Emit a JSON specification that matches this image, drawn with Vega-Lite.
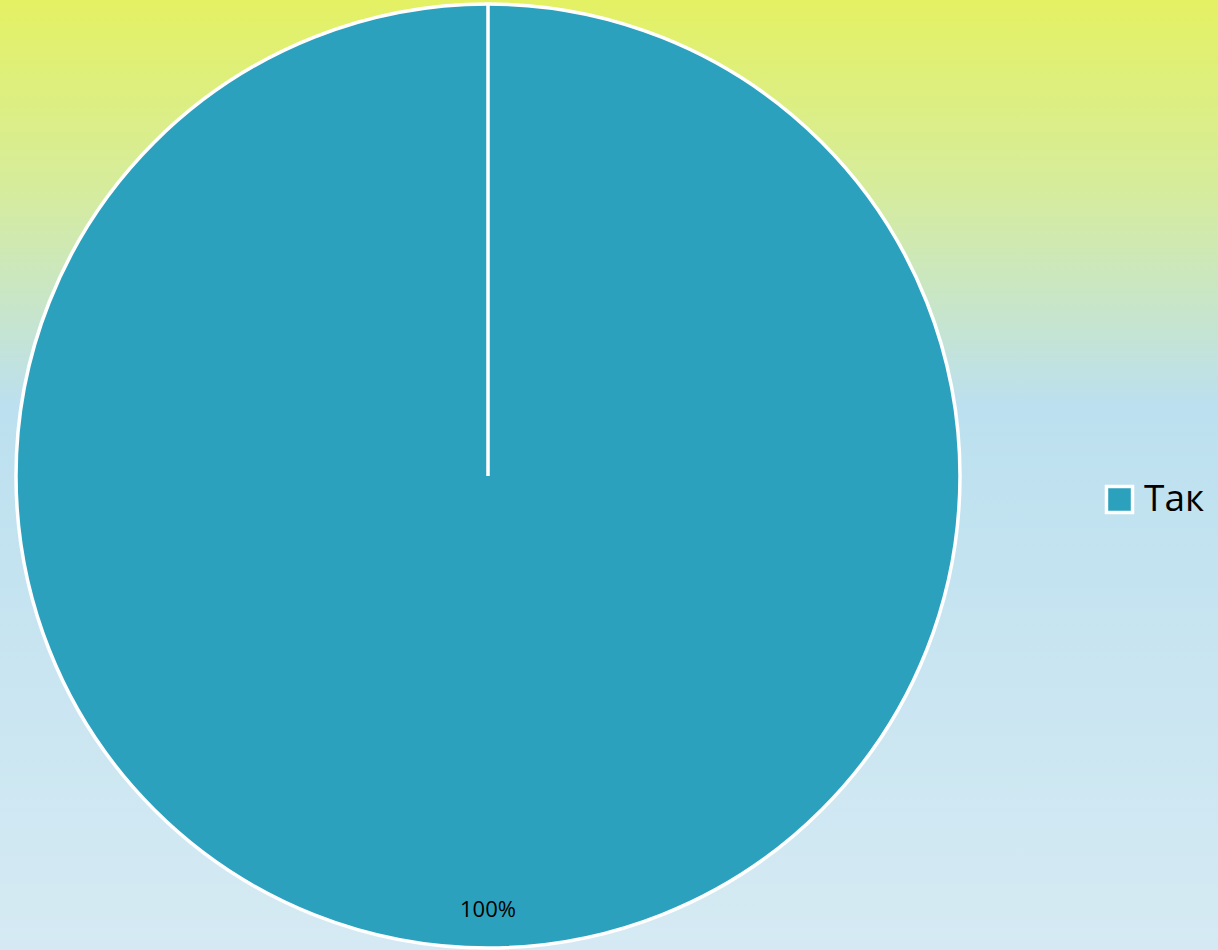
{
  "$schema": "https://vega.github.io/schema/vega-lite/v6.json",
  "width": 1218,
  "height": 950,
  "autosize": {"type": "fit", "contains": "padding"},
  "padding": 0,
  "background": "#d4e9f3",
  "config": {"view": {"stroke": null}, "font": "Open Sans"},
  "data": {"values": [
    {"answer": "Так", "share": 100, "label": "100%"},
    {"answer": "_", "share": 0, "label": ""}
  ]},
  "layer": [
    {
      "mark": {
        "type": "rect",
        "fill": {
          "gradient": "linear", "x1": 0, "y1": 0, "x2": 0, "y2": 1,
          "stops": [
            {"offset": 0, "color": "#e4f163"},
            {"offset": 0.2, "color": "#d6ec9c"},
            {"offset": 0.43, "color": "#bce0ef"},
            {"offset": 1, "color": "#d5eaf3"}
          ]
        }
      },
      "encoding": {}
    },
    {
      "mark": {"type": "arc", "outerRadius": 472, "stroke": "white", "strokeWidth": 3.5, "xOffset": -121, "yOffset": 6},
      "encoding": {
        "theta": {"field": "share", "type": "quantitative", "stack": true},
        "color": {
          "field": "answer", "type": "nominal",
          "scale": {"domain": ["Так", "_"], "range": ["#2ca1be", "#2ca1be"]},
          "legend": {
            "values": ["Так"], "title": null, "orient": "none",
            "legendX": 1101, "legendY": 481,
            "symbolType": "square", "symbolSize": 680,
            "symbolStrokeColor": "white", "symbolStrokeWidth": 3.5,
            "labelFontSize": 37, "labelColor": "#000000", "labelFont": "Open Sans",
            "labelOffset": 6, "padding": 0
          }
        },
        "order": {"field": "share", "sort": "descending"}
      }
    },
    {
      "transform": [{"filter": "datum.share > 0"}],
      "mark": {"type": "text", "radius": 434, "fontSize": 22, "color": "#000000", "xOffset": -121, "yOffset": 6, "font": "Open Sans"},
      "encoding": {
        "theta": {"field": "share", "type": "quantitative", "stack": true},
        "text": {"field": "label", "type": "nominal"}
      }
    }
  ]
}
